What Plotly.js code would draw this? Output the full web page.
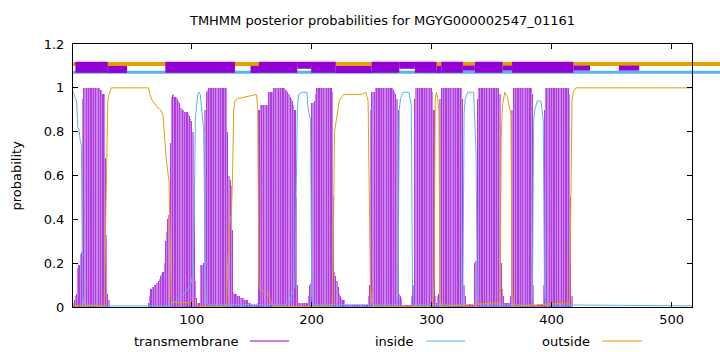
<!DOCTYPE html>
<html><head><meta charset="utf-8">
<script src="https://cdn.plot.ly/plotly-3.0.1.min.js"></script>
<style>html,body{margin:0;padding:0;background:#fff;} #chart{width:720px;height:352px;}</style>
</head><body><div id="chart"></div>
<script>
const chartTitle = "TMHMM posterior probabilities for MGYG000002547_01161";
const yAxisTitle = "probability";
const seqLength = 517;
const seriesNames = ["transmembrane", "inside", "outside"];
const xTicks = [100, 200, 300, 400, 500];
const yTicks = [0, 0.2, 0.4, 0.6, 0.8, 1, 1.2];

// transmembrane posterior, residues 1..420 (zero afterwards)
const tmProb = [
 0.02,0.03,0.05,0.06,0.18,0.19,0.24,0.25,0.95,1,1,1,1,1,1,1,1,1,1,1,
 1,1,1,0.99,0.99,0.97,0.97,0.68,0.33,0.06,0.03,0,0,0,0,0,0,0,0,0,
 0,0,0,0,0,0,0,0,0,0,0,0,0,0,0,0,0,0,0,0,
 0,0,0,0.02,0.05,0.08,0.09,0.09,0.1,0.1,0.11,0.12,0.13,0.14,0.15,0.16,0.2,0.3,0.34,0.4,
 0.42,0.75,0.96,0.967,0.97,0.96,0.96,0.95,0.94,0.93,0.91,0.9,0.9,0.89,0.89,0.89,0.88,0.87,0.86,0.85,
 0.8,0.57,0.12,0.04,0.02,0.02,0.19,0.19,0.19,0.2,0.9,0.98,0.99,1,1,1,1,1,1,1,
 1,1,1,1,1,1,1,1,1,0.8,0.6,0.58,0.55,0.35,0.07,0.06,0.06,0.05,0.05,0.05,
 0.04,0.04,0.04,0.03,0.03,0.03,0.02,0.02,0.02,0.01,0.01,0.01,0.01,0.01,0.02,0.9,0.92,0.92,0.92,0.92,
 0.92,0.92,0.92,0.98,0.98,0.98,0.98,1,1,1,1,1,1,1,1,1,1,0.99,0.99,0.98,
 0.97,0.96,0.95,0.94,0.92,0.9,0.5,0.1,0.02,0.02,0.02,0.02,0.02,0.02,0.02,0.02,0.05,0.1,0.11,0.93,
 0.93,0.94,0.97,1,1,1,1,1,1,1,1,1,1,1,1,1,0.98,0.5,0.16,0.14,
 0.12,0.09,0.06,0.05,0.04,0.03,0.03,0.01,0.01,0.01,0.01,0.01,0.01,0.01,0.01,0.01,0.01,0.01,0.01,0.01,
 0.01,0.01,0.01,0.01,0.01,0.01,0.05,0.1,0.9,0.98,0.98,0.98,1,1,1,1,1,1,1,1,
 1,1,1,1,1,1,1,0.99,0.98,0.97,0.95,0.9,0.06,0.05,0.04,0.01,0.01,0.01,0.01,0.01,
 0.01,0.01,0.05,0.1,0.1,0.95,1,1,1,1,1,1,1,1,1,1,1,1,1,1,
 0.98,0.9,0.05,0.02,0.05,0.06,0.95,1,1,1,1,1,1,1,1,1,1,1,1,1,
 1,1,1,1,1,0.95,0.1,0.05,0.01,0.01,0.01,0.01,0.01,0.01,0.01,0.2,0.21,0.95,1,1,
 1,1,1,1,1,1,1,1,1,1,1,1,1,1,1,1,0.97,0.2,0.08,0.05,
 0.02,0.02,0.02,0.02,0.02,0.05,0.9,1,1,1,1,1,1,1,1,1,1,1,1,1,
 1,1,1,0.97,0.1,0.01,0.01,0.01,0.01,0.01,0.01,0.01,0.1,0.9,1,1,1,1,1,1,
 1,1,1,1,1,1,1,1,1,1,1,1,1,1,0.97,0.5,0.05,0,0,0
];

// inside posterior
const insidePos  = [1,2,3,4,5,6,7,8,9,10,31,82,85,90,95,99,101,102,103,104,105,106,107,108,109,110,111,112,113,
  178,182,186,187,188,189,192,196,197,198,199,200,201,
  271,272,273,274,276,281,283,284,285,
  325,326,327,328,330,335,336,337,338,339,
  383,384,385,386,388,391,392,393,394,395,517];
const insideProb = [0.98,0.97,0.95,0.94,0.82,0.81,0.76,0.74,0.05,0.01,0.005,0.005,0.02,0.04,0.07,0.1,0.15,0.4,0.86,0.94,0.97,0.98,0.97,0.92,0.85,0.8,0.3,0.03,0.01,
  0.01,0.03,0.1,0.5,0.9,0.97,0.98,0.98,0.9,0.88,0.85,0.06,0.01,
  0.01,0.05,0.9,0.95,0.98,0.98,0.92,0.1,0.01,
  0.01,0.03,0.88,0.95,0.98,0.98,0.78,0.7,0.03,0.01,
  0.01,0.03,0.85,0.9,0.94,0.94,0.9,0.85,0.08,0.01,0.005];

// outside posterior
const outsidePos  = [1,27,28,29,30,31,32,33,64,65,67,71,74,76,77,79,81,82,83,84,102,104,107,
  128,129,130,132,133,134,135,136,138,145,154,155,156,157,164,166,168,
  217,218,219,220,221,222,223,225,227,242,245,247,248,249,250,252,
  301,302,303,304,305,306,307,308,
  357,358,359,360,361,363,365,366,367,368,
  415,416,417,418,419,420,517];
const outsideProb = [0.005,0.005,0.3,0.66,0.94,0.97,0.99,1,1,0.97,0.944,0.914,0.9,0.876,0.8,0.66,0.58,0.25,0.03,0.02,0.02,0.01,0.003,
  0.003,0.02,0.2,0.4,0.42,0.6,0.9,0.94,0.95,0.96,0.97,0.9,0.1,0.08,0.06,0.02,0.003,
  0.003,0.3,0.8,0.84,0.88,0.91,0.94,0.96,0.97,0.97,0.98,0.94,0.5,0.08,0.02,0.003,
  0.003,0.1,0.95,0.98,0.95,0.9,0.05,0.003,
  0.02,0.78,0.92,0.95,0.98,0.96,0.9,0.88,0.1,0.003,
  0.02,0.5,0.94,0.98,0.99,1,1];

// predicted topology band across the top
const bandOutsideLevel = 1.109;
const bandInsideLevel = 1.071;
const tmFullStart = [3,78,156,199.5,250,286,308,336,367];
const tmFullEnd   = [30,136,188,220,273,304,326,359,418];
const tmUpperStart = [188,273];
const tmUpperEnd   = [199.5,286];
const tmLowerStart = [30,149,220,304];
const tmLowerEnd   = [46,156,250,308];
const tmMiddleStart = [326,359,418,456];
const tmMiddleEnd   = [336,367,432,473];

const colTM = '#9400d3', colIn = '#56b4e9', colOut = '#e69f00';
const impulseShades = ['rgb(176,62,222)', 'rgb(204,130,236)'];

function segTrace(starts, ends, level, width) {
  const xs = [], ys = [];
  starts.forEach((s, i) => { xs.push(s, ends[i], null); ys.push(level, level, null); });
  return {x: xs, y: ys, type: 'scatter', mode: 'lines', hoverinfo: 'skip', showlegend: false,
          line: {color: colTM, width: width}};
}

const residues = tmProb.map((v, i) => i + 1);
const impulseColors = residues.map(r => impulseShades[r % 2]);

const traces = [
  {x: residues, y: tmProb, type: 'bar', name: seriesNames[0], width: 1,
   marker: {color: impulseColors, line: {width: 0}}, hoverinfo: 'x+y'},
  {x: insidePos, y: insideProb, type: 'scatter', mode: 'lines', name: seriesNames[1],
   line: {color: colIn, width: 1}},
  {x: outsidePos, y: outsideProb, type: 'scatter', mode: 'lines', name: seriesNames[2],
   line: {color: colOut, width: 1}},
  segTrace(tmFullStart, tmFullEnd, 1.094, 11),
  segTrace(tmUpperStart, tmUpperEnd, 1.103, 7),
  segTrace(tmLowerStart, tmLowerEnd, 1.084, 7),
  segTrace(tmMiddleStart, tmMiddleEnd, 1.09, 5)
];

// legend drawn gnuplot-style: label then sample line
const legendTextRight = [0.2714, 0.5541, 0.8384];
const legendLineStart = [0.2859, 0.5703, 0.8546];
const legendLineEnd = [0.349, 0.6333, 0.9192];
const legendColors = [colTM, colIn, colOut];
const legendY = -0.1293;

const shapes = [
  {type: 'line', xref: 'paper', yref: 'y', x0: 0, x1: 1.06, y0: bandOutsideLevel, y1: bandOutsideLevel,
   line: {color: colOut, width: 4}, layer: 'below'},
  {type: 'line', xref: 'paper', yref: 'y', x0: 0, x1: 1.06, y0: bandInsideLevel, y1: bandInsideLevel,
   line: {color: colIn, width: 3}, layer: 'below'}
];
const annotations = [
  {text: yAxisTitle, xref: 'paper', yref: 'paper', x: -0.0905, y: 0.5, textangle: -90,
   showarrow: false, xanchor: 'center', yanchor: 'middle', font: {size: 13}}
];
seriesNames.forEach((n, i) => {
  annotations.push({text: n, xref: 'paper', yref: 'paper', x: legendTextRight[i], y: legendY,
    xanchor: 'right', yanchor: 'middle', showarrow: false, font: {size: 13}});
  shapes.push({type: 'line', xref: 'paper', yref: 'paper', x0: legendLineStart[i], x1: legendLineEnd[i],
    y0: legendY, y1: legendY, line: {color: legendColors[i], width: 1}});
});

const axisCommon = {ticks: 'inside', ticklen: 5, tickcolor: '#000', tickwidth: 1,
  showline: true, linecolor: '#000', linewidth: 1, mirror: 'ticks', showgrid: false,
  zeroline: false, fixedrange: true, tickfont: {size: 13, color: '#000'}};

const layout = {
  width: 720, height: 352,
  margin: {l: 73, r: 28, t: 44, b: 45, pad: 0},
  paper_bgcolor: '#ffffff', plot_bgcolor: '#ffffff',
  font: {family: 'DejaVu Sans, sans-serif', size: 13, color: '#000'},
  title: {text: chartTitle, x: 0.5, xref: 'paper', xanchor: 'center', y: 1 - 20 / 352, yref: 'container',
          yanchor: 'middle', font: {size: 13, color: '#000'}},
  xaxis: Object.assign({range: [1, seqLength], tickvals: xTicks}, axisCommon),
  yaxis: Object.assign({range: [0, 1.2], tickvals: yTicks, ticklabelstandoff: 5}, axisCommon),
  bargap: 0, showlegend: false,
  shapes: shapes, annotations: annotations
};

Plotly.newPlot('chart', traces, layout, {staticPlot: true, displayModeBar: false});
</script></body></html>
